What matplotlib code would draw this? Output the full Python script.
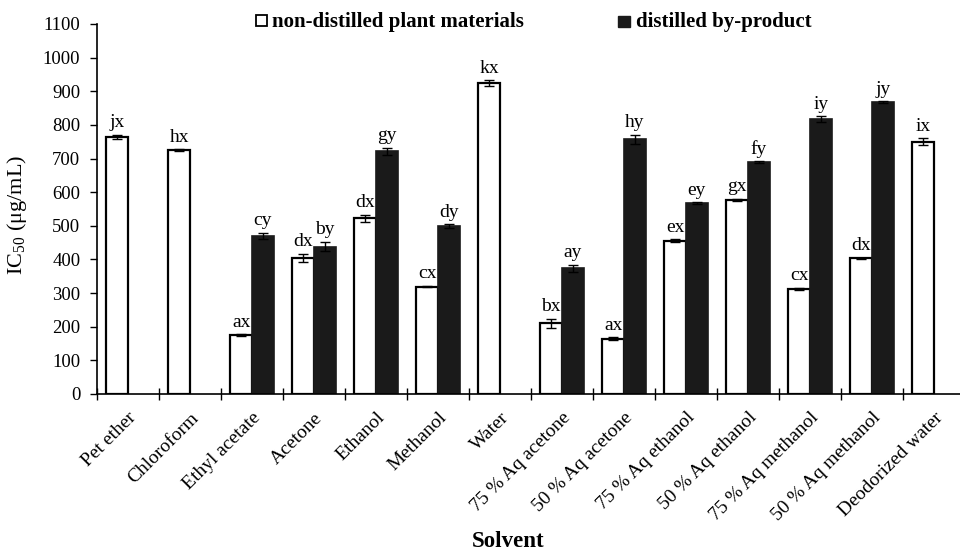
import matplotlib
matplotlib.use('Agg')
import matplotlib.pyplot as plt
import numpy as np
from matplotlib.patches import Rectangle

nan = np.nan

categories = ['Pet ether', 'Chloroform', 'Ethyl acetate', 'Acetone', 'Ethanol',
              'Methanol', 'Water', '75 % Aq acetone', '50 % Aq acetone',
              '75 % Aq ethanol', '50 % Aq ethanol', '75 % Aq methanol',
              '50 % Aq methanol', 'Deodorized water']
nondistilled = [765, 725, 174, 404, 522, 319, 925, 210, 165, 456, 577, 313, 403, 750]
nondistilled_err = [6, 2, 3, 13, 10, 2, 8, 14, 3, 4, 4, 3, 2, 10]
distilled = [nan, nan, 470, 438, 722, 499, nan, 374, 757, 567, 690, 818, 868, nan]
distilled_err = [nan, nan, 10, 14, 10, 5, nan, 11, 13, 3, 2, 8, 2, nan]
letters_nd = ['jx', 'hx', 'ax', 'dx', 'dx', 'cx', 'kx', 'bx', 'ax', 'ex', 'gx', 'cx', 'dx', 'ix']
letters_d = ['', '', 'cy', 'by', 'gy', 'dy', '', 'ay', 'hy', 'ey', 'fy', 'iy', 'jy', '']
legend_labels = ['non-distilled plant materials', 'distilled by-product']
yticks = list(range(0, 1101, 100))

plt.rcParams['font.family'] = ['Liberation Serif', 'DejaVu Serif']
plt.rcParams['mathtext.fontset'] = 'custom'
plt.rcParams['mathtext.rm'] = 'Liberation Serif'
plt.rcParams['mathtext.it'] = 'Liberation Serif:italic'

W, H = 960, 551
fig = plt.figure(figsize=(9.6, 5.51), dpi=100)
ax = fig.add_axes([97 / W, (H - 394) / H, 868 / W, 370 / H])

x = np.arange(len(categories))
bw = 0.35
dark = '#1a1a1a'

ax.bar(x - bw / 2, nondistilled, bw, color='white', edgecolor='black', linewidth=1.6, zorder=2)
ax.bar(x + bw / 2, distilled, bw, color=dark, edgecolor=dark, linewidth=1.2, zorder=2)
ax.errorbar(x - bw / 2, nondistilled, yerr=nondistilled_err, fmt='none', ecolor='black',
            elinewidth=1, capsize=3.5, capthick=1, zorder=3)
ax.errorbar(x + bw / 2, distilled, yerr=distilled_err, fmt='none', ecolor='black',
            elinewidth=1, capsize=3.5, capthick=1, zorder=3)

for i in range(len(categories)):
    if not np.isnan(nondistilled[i]):
        ax.annotate(letters_nd[i], (x[i] - bw / 2, nondistilled[i] + nondistilled_err[i]),
                    xytext=(0, 5.5), textcoords='offset points', ha='center', va='baseline',
                    fontsize=14)
    if not np.isnan(distilled[i]):
        ax.annotate(letters_d[i], (x[i] + bw / 2, distilled[i] + distilled_err[i]),
                    xytext=(0, 5.5), textcoords='offset points', ha='center', va='baseline',
                    fontsize=14)

ax.set_xlim(-0.5, len(categories) - 0.5)
ax.set_ylim(0, 1100)
ax.set_yticks(yticks)
ax.tick_params(axis='y', direction='out', length=5, width=1, labelsize=13.5, pad=7)

ax.set_xticks(x)
ax.set_xticklabels(categories, rotation=45, ha='right', va='top', rotation_mode='anchor',
                   fontsize=14)
ax.tick_params(axis='x', which='major', length=0, pad=11)
ax.set_xticks(np.arange(-0.5, len(categories), 1.0), minor=True)
ax.tick_params(axis='x', which='minor', direction='inout', length=8.5, width=1)

for s in ['top', 'right']:
    ax.spines[s].set_visible(False)
for s in ['left', 'bottom']:
    ax.spines[s].set_linewidth(1.2)
    ax.spines[s].set_zorder(4)

# legend
fig.add_artist(Rectangle((256 / W, (H - 26) / H), 11 / W, 11 / H, transform=fig.transFigure,
                         facecolor='white', edgecolor='black', linewidth=1.3))
fig.text(272 / W, (H - 27) / H, legend_labels[0], fontsize=15, fontweight='bold', va='baseline')
fig.add_artist(Rectangle((618 / W, (H - 27) / H), 12 / W, 11 / H, transform=fig.transFigure,
                         facecolor=dark, edgecolor=dark, linewidth=1))
fig.text(636 / W, (H - 27) / H, legend_labels[1], fontsize=15, fontweight='bold', va='baseline')

fig.text(17 / W, (H - 215) / H, 'IC$_{50}$ (μg/mL)', rotation=90, ha='center', va='center',
         fontsize=16)
fig.text(508 / W, (H - 547) / H, 'Solvent', ha='center', va='baseline', fontsize=16.5,
         fontweight='bold')

fig.savefig('out.png', dpi=100)
